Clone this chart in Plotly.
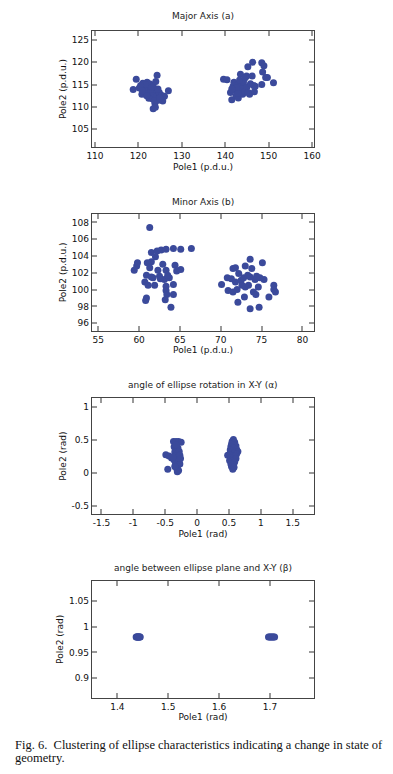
import plotly.graph_objects as go

# ---------------- data ----------------
major_x1 = [119.5,118.8,120.2,120.8,121.0,121.5,121.8,122.0,122.3,122.5,122.7,123.0,123.2,123.4,123.6,123.8,124.0,124.2,124.3,124.0,
            123.4,123.9,124.6,124.8,125.3,125.6,126.0,126.9,121.3,122.0,122.8,121.6,120.5,123.1,124.5,122.4,121.9,123.7,124.9,120.9]
major_y1 = [116.2,113.9,114.2,112.8,115.3,114.5,113.2,115.5,114.0,112.5,115.1,113.6,111.8,114.7,112.9,110.8,113.9,112.3,117.1,115.7,
            109.6,109.9,111.5,113.2,112.6,111.3,112.4,113.6,113.8,113.0,113.9,115.0,114.8,114.4,114.0,111.9,112.5,111.4,112.0,113.6]
major_x2 = [139.6,140.4,141.5,141.2,141.8,142.0,142.3,142.5,142.8,143.0,143.2,143.5,143.6,143.8,144.0,144.2,144.5,144.9,145.0,145.2,
            145.6,145.8,146.2,146.3,146.5,146.7,146.9,148.4,148.9,148.6,149.3,149.7,148.4,151.1,142.6,143.3,144.6,145.3,141.5,142.9]
major_y2 = [116.2,116.1,111.6,113.2,114.6,115.5,113.8,112.5,114.9,112.0,113.5,117.3,115.0,114.0,112.8,115.6,113.4,116.9,114.5,119.0,
            112.8,115.2,116.9,120.0,114.8,113.4,114.6,119.9,119.2,117.8,116.6,116.6,115.0,115.4,114.2,116.0,116.5,113.2,114.0,113.0]

minor_x1 = [61.3,59.4,59.7,59.8,61.5,62.2,62.7,63.3,64.2,65.1,66.4,62.0,61.5,61.0,61.3,62.9,64.4,65.1,64.6,62.3,
            63.3,60.9,61.7,62.5,63.1,63.7,63.5,60.7,61.1,61.9,63.3,64.2,63.3,63.4,64.2,60.9,60.8,63.2,63.9,61.5,62.6]
minor_y1 = [107.4,102.3,102.8,103.2,104.4,104.6,104.7,104.8,104.9,104.8,104.9,103.9,103.3,103.2,102.6,103.0,102.9,102.4,102.2,102.3,
            102.3,101.7,101.4,101.6,101.2,101.4,101.7,100.9,100.5,100.5,100.4,100.6,99.9,99.4,99.4,99.0,98.7,98.8,97.9,101.5,101.3]
minor_x2 = [70.1,70.8,71.3,71.5,71.8,70.9,71.5,72.0,72.1,71.8,72.5,72.8,73.0,73.3,73.6,73.8,74.2,73.4,73.0,72.9,
            73.6,74.0,74.3,74.6,74.7,75.1,75.3,74.8,75.9,76.5,76.5,76.7,72.2,73.6,72.6,74.4]
minor_y2 = [100.6,101.4,101.3,102.5,102.6,99.9,99.7,100.0,98.5,100.9,101.1,101.4,102.8,101.7,103.6,102.5,101.2,100.5,100.3,99.1,
            97.7,99.7,99.4,100.3,97.9,103.2,101.2,101.4,99.1,100.5,100.0,99.7,101.9,101.5,100.5,101.6]

alpha_x1 = [-0.46,-0.49,-0.44,-0.40,-0.37,-0.33,-0.29,-0.25,-0.36,-0.33,-0.30,-0.35,-0.31,-0.28,-0.34,-0.30,-0.27,-0.36,-0.32,-0.28,
            -0.34,-0.30,-0.27,-0.32,-0.29,-0.31,-0.35,-0.38,-0.26,-0.33]
alpha_y1 = [0.06,0.28,0.26,0.23,0.48,0.48,0.48,0.47,0.40,0.36,0.38,0.32,0.30,0.33,0.26,0.24,0.27,0.20,0.18,0.20,
            0.13,0.12,0.14,0.07,0.04,0.02,0.10,0.24,0.22,0.43]
alpha_x2 = [0.57,0.55,0.59,0.54,0.58,0.61,0.53,0.57,0.62,0.52,0.56,0.60,0.64,0.54,0.58,0.62,0.48,0.52,0.56,0.60,
            0.53,0.57,0.61,0.51,0.55,0.59,0.53,0.57,0.54,0.56,0.58]
alpha_y2 = [0.51,0.48,0.47,0.44,0.43,0.41,0.40,0.38,0.36,0.35,0.34,0.33,0.33,0.31,0.30,0.29,0.27,0.27,0.26,0.26,
            0.23,0.22,0.22,0.19,0.18,0.17,0.14,0.13,0.10,0.06,0.09]

beta_x1 = [1.437,1.438,1.439,1.440,1.441,1.442,1.443,1.444,1.445]
beta_y1 = [0.98,0.98,0.98,0.98,0.98,0.98,0.98,0.98,0.98]
beta_x2 = [1.697,1.699,1.701,1.703,1.705,1.707,1.709]
beta_y2 = [0.98,0.98,0.98,0.98,0.98,0.98,0.98]

titles = ["Major Axis (a)", "Minor Axis (b)",
          "angle of ellipse rotation in X-Y (\u03b1)", "angle between ellipse plane and X-Y (\u03b2)"]
x_titles = ["Pole1 (p.d.u.)", "Pole1 (p.d.u.)", "Pole1 (rad)", "Pole1 (rad)"]
y_titles = ["Pole2 (p.d.u.)", "Pole2 (p.d.u.)", "Pole2 (rad)", "Pole2 (rad)"]

x_tickvals = [[110,120,130,140,150,160], [55,60,65,70,75,80], [-1.5,-1,-0.5,0,0.5,1,1.5], [1.4,1.5,1.6,1.7]]
x_ticktext = [["110","120","130","140","150","160"], ["55","60","65","70","75","80"],
              ["-1.5","-1","-0.5","0","0.5","1","1.5"], ["1.4","1.5","1.6","1.7"]]
y_tickvals = [[105,110,115,120,125], [96,98,100,102,104,106,108], [-0.5,0,0.5,1], [0.9,0.95,1.0,1.05]]
y_ticktext = [["105","110","115","120","125"], ["96","98","100","102","104","106","108"],
              ["-0.5","0","0.5","1"], ["0.9","0.95","1","1.05"]]

x_ranges = [[109.26,160.5], [54.2,81.46], [-1.652,1.839], [1.3498,1.787]]
y_ranges = [[101.0,127.0], [95.1,109.0], [-0.622,1.137], [0.8626,1.088]]

caption_1 = "Fig. 6.  Clustering of ellipse characteristics indicating a change in state of"
caption_2 = "geometry."

# ---------------- layout constants (page pixels) ----------------
OFF = 8                      # default body margin of the html page
W, H = 393 - OFF, 774 - OFF  # figure size so the page is filled exactly
PX_L, PX_R = 89.3, 319.0
panels_px = [(31, 147), (214, 330.7), (398.3, 514), (581, 697.7)]
title_py = [16, 201.5, 385, 568]
MARKER = "#3b4a9b"
FONT = "DejaVu Sans"


def fx(px):
    return (px - OFF) / W


def fy(py):
    return 1 - (py - OFF) / H


fig = go.Figure()
series = [(major_x1, major_y1, major_x2, major_y2),
          (minor_x1, minor_y1, minor_x2, minor_y2),
          (alpha_x1, alpha_y1, alpha_x2, alpha_y2),
          (beta_x1, beta_y1, beta_x2, beta_y2)]

for i, (xa, ya, xb, yb) in enumerate(series):
    n = "" if i == 0 else str(i + 1)
    for xs, ys in ((xa, ya), (xb, yb)):
        fig.add_trace(go.Scatter(x=xs, y=ys, mode="markers", xaxis="x" + n, yaxis="y" + n,
                                 marker=dict(size=7, color=MARKER, line=dict(width=0)),
                                 showlegend=False, hoverinfo="x+y"))
    top, bot = panels_px[i]
    common = dict(showline=True, linecolor="#444", linewidth=1, mirror="ticks", ticks="inside",
                  ticklen=5, tickcolor="#999", tickwidth=1.5, showgrid=False, zeroline=False,
                  tickfont=dict(family=FONT, size=9, color="#111"))
    fig.layout["xaxis" + n] = dict(domain=[fx(PX_L), fx(PX_R)], range=x_ranges[i], anchor="y" + n,
                                   tickvals=x_tickvals[i], ticktext=x_ticktext[i],
                                   title=dict(text=x_titles[i], font=dict(family=FONT, size=9, color="#111"), standoff=3),
                                   **common)
    fig.layout["yaxis" + n] = dict(domain=[fy(bot), fy(top)], range=y_ranges[i], anchor="x" + n,
                                   tickvals=y_tickvals[i], ticktext=y_ticktext[i],
                                   title=dict(text=y_titles[i], font=dict(family=FONT, size=9, color="#111"), standoff=3),
                                   **common)
    fig.add_annotation(text=titles[i], xref="paper", yref="paper", x=fx((PX_L + PX_R) / 2),
                       y=fy(title_py[i]), xanchor="center", yanchor="middle", showarrow=False,
                       font=dict(family=FONT, size=9, color="#222"))

fig.add_annotation(text=caption_1, xref="paper", yref="paper", x=0, y=fy(745),
                   xanchor="left", yanchor="middle", showarrow=False,
                   font=dict(family="Liberation Serif", size=12.5, color="#111"))
fig.add_annotation(text=caption_2, xref="paper", yref="paper", x=0, y=fy(758),
                   xanchor="left", yanchor="middle", showarrow=False,
                   font=dict(family="Liberation Serif", size=12.5, color="#111"))

fig.update_layout(width=W, height=H, margin=dict(l=0, r=0, t=0, b=0),
                  paper_bgcolor="white", plot_bgcolor="white")
fig.write_html("out.html")
